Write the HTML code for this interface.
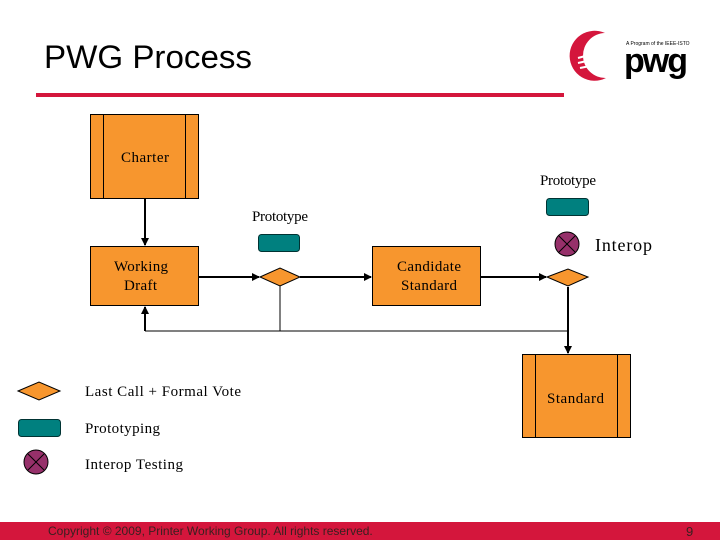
<!DOCTYPE html>
<html><head><style>
body{margin:0;width:720px;height:540px;background:#fff;overflow:hidden;position:relative;font-family:"Liberation Serif",serif}
</style></head><body>
<svg width="720" height="540" style="position:absolute;left:0;top:0" font-family="Liberation Serif, serif">
<defs><marker id="a" markerWidth="8" markerHeight="8" refX="7" refY="4" orient="auto" markerUnits="userSpaceOnUse"><path d="M0,0 L8,4 L0,8z" fill="#000"/></marker></defs>
<text x="44" y="68" font-family="Liberation Sans, sans-serif" font-size="32" fill="#000" textLength="208" lengthAdjust="spacingAndGlyphs">PWG Process</text>
<rect x="36" y="93" width="528" height="4" fill="#d4163c"/>
<!-- logo -->
<path d="M605,33 A25,25 0 1 0 606,78 A21,21 0 1 1 605,33z" fill="#d4163c"/>
<path d="M578,58 L600,52 M578,63 L600,58 M580,68 L600,64" stroke="#fff" stroke-width="2"/>
<text x="626" y="45" font-family="Liberation Sans, sans-serif" font-size="5" fill="#000">A Program of the IEEE-ISTO</text>
<text x="624" y="72" font-family="Liberation Sans, sans-serif" font-size="34" font-weight="bold" fill="#000" letter-spacing="-2">pwg</text>
<!-- connectors -->
<g stroke="#000" stroke-width="2" fill="none">
<line x1="145" y1="198" x2="145" y2="245" marker-end="url(#a)"/>
<line x1="199" y1="277" x2="259" y2="277" marker-end="url(#a)"/>
<line x1="300" y1="277" x2="371" y2="277" marker-end="url(#a)"/>
<line x1="481" y1="277" x2="546" y2="277" marker-end="url(#a)"/>
<line x1="568" y1="287" x2="568" y2="353" marker-end="url(#a)"/>
<line x1="145" y1="331" x2="145" y2="307" marker-end="url(#a)"/>
</g>
<g stroke="#000" stroke-width="1">
<line x1="145" y1="331" x2="568" y2="331"/>
<line x1="280" y1="286" x2="280" y2="331"/>
</g>
<!-- boxes -->
<g fill="#f7962e" stroke="#000" stroke-width="1">
<rect x="90.5" y="114.5" width="108" height="84"/>
<rect x="90.5" y="246.5" width="108" height="59"/>
<rect x="372.5" y="246.5" width="108" height="59"/>
<rect x="522.5" y="354.5" width="108" height="83"/>
<path d="M260,277 L280,268 L300,277 L280,286z"/>
<path d="M547,277 L568,269 L588,277 L568,286z"/>
<path d="M18,391 L39,382 L60,391 L39,400z"/>
</g>
<g stroke="#000"><line x1="103.5" y1="114" x2="103.5" y2="198"/><line x1="185.5" y1="114" x2="185.5" y2="198"/>
<line x1="535.5" y1="354" x2="535.5" y2="438"/><line x1="617.5" y1="354" x2="617.5" y2="438"/></g>
<g fill="#00807f" stroke="#033" stroke-width="1">
<rect x="258.5" y="234.5" width="41" height="17" rx="3"/>
<rect x="546.5" y="198.5" width="42" height="17" rx="3"/>
<rect x="18.5" y="419.5" width="42" height="17" rx="3"/>
</g>
<g stroke="#000" stroke-width="1">
<circle cx="567" cy="244" r="12" fill="#96306a"/>
<line x1="559" y1="236" x2="575" y2="252"/><line x1="575" y1="236" x2="559" y2="252"/>
<circle cx="36" cy="462" r="12" fill="#96306a"/>
<line x1="28" y1="454" x2="44" y2="470"/><line x1="44" y1="454" x2="28" y2="470"/>
</g>
<g font-size="15" fill="#000" lengthAdjust="spacingAndGlyphs">
<text x="121" y="162" textLength="48">Charter</text>
<text x="114" y="271" textLength="54">Working</text><text x="124" y="290" textLength="33">Draft</text>
<text x="397" y="271" textLength="64">Candidate</text><text x="401" y="290" textLength="56">Standard</text>
<text x="547" y="403" textLength="57">Standard</text>
<text x="252" y="221" textLength="56">Prototype</text>
<text x="540" y="185" textLength="56">Prototype</text>
</g>
<text x="595" y="251" font-size="18" textLength="57">Interop</text>
<g font-size="15"><text x="85" y="396" textLength="156">Last Call + Formal Vote</text>
<text x="85" y="433" textLength="75">Prototyping</text>
<text x="85" y="469" textLength="98">Interop Testing</text></g>
<rect x="0" y="522" width="720" height="18" fill="#d4163c"/>
<text x="48" y="535" font-family="Liberation Sans, sans-serif" font-size="12" fill="#3a2020">Copyright © 2009, Printer Working Group. All rights reserved.</text>
<text x="686" y="536" font-family="Liberation Sans, sans-serif" font-size="13" fill="#3a2020">9</text>
</svg>
</body></html>
